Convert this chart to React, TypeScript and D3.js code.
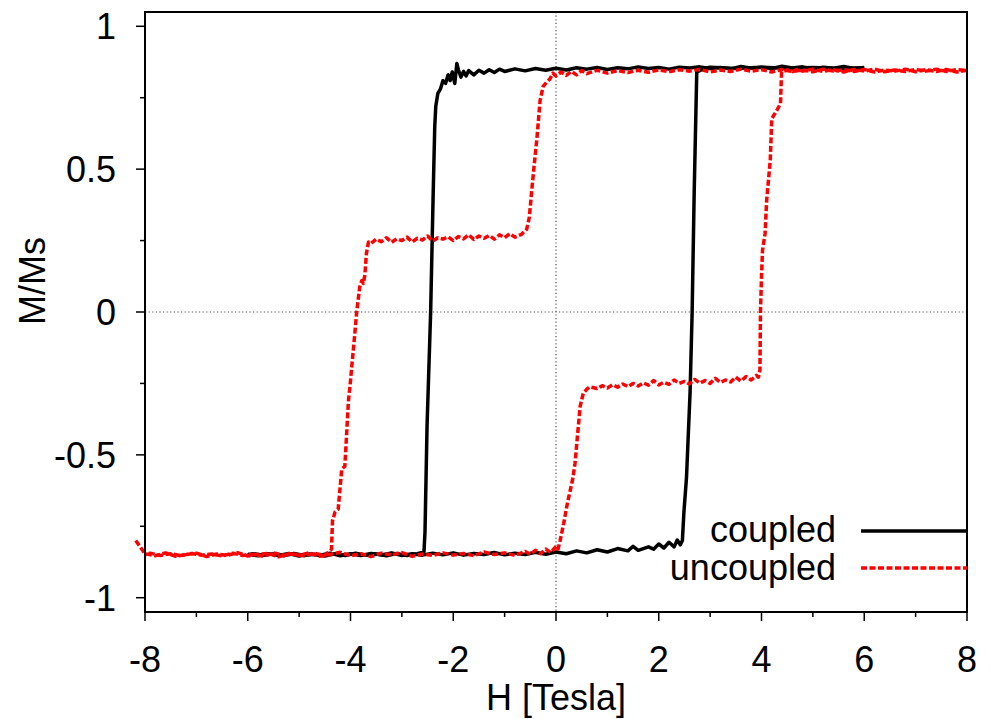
import React from 'react';
import * as d3 from 'd3';

const xTicks = [-8, -6, -4, -2, 0, 2, 4, 6, 8];
const xTickLabels = ['-8', '-6', '-4', '-2', '0', '2', '4', '6', '8'];
const xMinorTicks = [-7, -5, -3, -1, 1, 3, 5, 7];
const yTicks = [-1, -0.5, 0, 0.5, 1];
const yTickLabels = ['-1', '-0.5', '0', '0.5', '1'];
const yMinorTicks = [-0.75, -0.25, 0.25, 0.75];
const seriesNames = ['coupled', 'uncoupled'];
const xLabel = 'H [Tesla]';
const yLabel = 'M/Ms';

// coupled, field sweeping down (+6 -> -6)
const coupledDown: [number, number][] = [
  [6.0, 0.856], [5.8, 0.852], [5.6, 0.859], [5.4, 0.853], [5.2, 0.857], [5.0, 0.851], [4.8, 0.858], [4.6, 0.854],
  [4.4, 0.86], [4.2, 0.852], [4.0, 0.857], [3.8, 0.853], [3.6, 0.859], [3.4, 0.851], [3.2, 0.856], [3.0, 0.852],
  [2.8, 0.858], [2.6, 0.854], [2.4, 0.857], [2.2, 0.85], [2.0, 0.856], [1.8, 0.852], [1.6, 0.858], [1.4, 0.851],
  [1.2, 0.855], [1.0, 0.849], [0.8, 0.856], [0.6, 0.85], [0.4, 0.855], [0.2, 0.847], [0.0, 0.853], [-0.2, 0.846],
  [-0.4, 0.852], [-0.6, 0.844], [-0.8, 0.851], [-1.0, 0.842], [-1.1, 0.85], [-1.2, 0.838], [-1.3, 0.848], [-1.4, 0.836],
  [-1.5, 0.846], [-1.6, 0.83], [-1.7, 0.845], [-1.75, 0.826], [-1.8, 0.842], [-1.85, 0.822], [-1.9, 0.848], [-1.93, 0.87],
  [-1.97, 0.8], [-2.02, 0.84], [-2.06, 0.81], [-2.1, 0.83], [-2.15, 0.8], [-2.2, 0.81], [-2.25, 0.78], [-2.3, 0.765],
  [-2.34, 0.72], [-2.36, 0.65], [-2.39, 0.42], [-2.44, 0.0], [-2.51, -0.4], [-2.55, -0.77], [-2.57, -0.84], [-2.7, -0.846],
  [-2.9, -0.852], [-3.1, -0.845], [-3.3, -0.853], [-3.5, -0.847], [-3.7, -0.851], [-3.9, -0.844], [-4.1, -0.852],
  [-4.3, -0.846], [-4.5, -0.854], [-4.7, -0.848], [-4.9, -0.852], [-5.1, -0.845], [-5.3, -0.853], [-5.5, -0.847],
  [-5.7, -0.851], [-5.9, -0.846], [-6.0, -0.85],
];

// coupled, field sweeping up (-6 -> +6)
const coupledUp: [number, number][] = [
  [-6.0, -0.848], [-5.8, -0.853], [-5.6, -0.846], [-5.4, -0.852], [-5.2, -0.845], [-5.0, -0.854], [-4.8, -0.847],
  [-4.6, -0.851], [-4.4, -0.844], [-4.2, -0.853], [-4.0, -0.846], [-3.8, -0.852], [-3.6, -0.845], [-3.4, -0.85],
  [-3.2, -0.843], [-3.0, -0.852], [-2.8, -0.846], [-2.6, -0.851], [-2.4, -0.844], [-2.2, -0.85], [-2.0, -0.843],
  [-1.8, -0.851], [-1.6, -0.845], [-1.4, -0.849], [-1.2, -0.842], [-1.0, -0.85], [-0.8, -0.844], [-0.6, -0.849],
  [-0.4, -0.841], [-0.2, -0.848], [0.0, -0.84], [0.2, -0.846], [0.4, -0.836], [0.6, -0.843], [0.8, -0.832],
  [1.0, -0.84], [1.2, -0.828], [1.4, -0.836], [1.5, -0.82], [1.6, -0.834], [1.8, -0.822], [1.9, -0.83], [2.0, -0.812],
  [2.1, -0.826], [2.2, -0.806], [2.3, -0.822], [2.36, -0.798], [2.42, -0.815], [2.46, -0.8], [2.49, -0.7],
  [2.54, -0.58], [2.61, -0.28], [2.65, 0.0], [2.69, 0.42], [2.74, 0.84], [2.9, 0.853], [3.0, 0.857], [3.5, 0.852],
  [4.0, 0.857], [4.5, 0.853], [5.0, 0.856], [5.5, 0.852], [6.0, 0.855],
];

// uncoupled, field sweeping up (-8 -> +8)
const uncoupledUp: [number, number][] = [
  [-8.18, -0.8], [-8.0, -0.846], [-7.8, -0.853], [-7.6, -0.843], [-7.4, -0.855], [-7.2, -0.849], [-7.0, -0.844],
  [-6.8, -0.856], [-6.6, -0.847], [-6.4, -0.852], [-6.2, -0.842], [-6.0, -0.854], [-5.8, -0.848], [-5.6, -0.845],
  [-5.4, -0.857], [-5.2, -0.846], [-5.0, -0.851], [-4.8, -0.843], [-4.6, -0.855], [-4.4, -0.849], [-4.2, -0.841],
  [-4.0, -0.853], [-3.8, -0.846], [-3.6, -0.856], [-3.4, -0.844], [-3.2, -0.85], [-3.0, -0.842], [-2.8, -0.855],
  [-2.6, -0.847], [-2.4, -0.852], [-2.2, -0.843], [-2.0, -0.851], [-1.8, -0.845], [-1.6, -0.853], [-1.4, -0.84],
  [-1.2, -0.849], [-1.0, -0.843], [-0.8, -0.852], [-0.6, -0.838], [-0.5, -0.848], [-0.4, -0.834], [-0.3, -0.846],
  [-0.2, -0.83], [-0.1, -0.842], [0.0, -0.82], [0.04, -0.83], [0.08, -0.8], [0.15, -0.74], [0.21, -0.68],
  [0.27, -0.63], [0.33, -0.58], [0.37, -0.53], [0.41, -0.45], [0.44, -0.39], [0.47, -0.33], [0.53, -0.285],
  [0.6, -0.27], [0.66, -0.262], [0.8, -0.268], [0.9, -0.258], [1.0, -0.266], [1.1, -0.255], [1.2, -0.263],
  [1.3, -0.252], [1.4, -0.261], [1.5, -0.25], [1.6, -0.259], [1.7, -0.248], [1.8, -0.256], [1.9, -0.24],
  [2.0, -0.255], [2.1, -0.246], [2.2, -0.253], [2.3, -0.238], [2.4, -0.25], [2.5, -0.243], [2.6, -0.252],
  [2.7, -0.236], [2.8, -0.249], [2.9, -0.24], [3.0, -0.25], [3.1, -0.232], [3.2, -0.246], [3.3, -0.238],
  [3.4, -0.245], [3.5, -0.228], [3.6, -0.242], [3.7, -0.226], [3.8, -0.238], [3.9, -0.222], [3.94, -0.228],
  [3.97, -0.203], [3.98, 0.0], [4.0, 0.123], [4.02, 0.217], [4.07, 0.275], [4.1, 0.39], [4.17, 0.53],
  [4.2, 0.677], [4.3, 0.706], [4.37, 0.73], [4.39, 0.84], [4.5, 0.847], [4.6, 0.841], [4.7, 0.849], [4.8, 0.843],
  [5.0, 0.85], [5.2, 0.842], [5.4, 0.848], [5.6, 0.84], [5.8, 0.849], [6.0, 0.843], [6.2, 0.85], [6.4, 0.841],
  [6.6, 0.847], [6.8, 0.842], [7.0, 0.849], [7.2, 0.843], [7.4, 0.85], [7.6, 0.842], [7.8, 0.848], [8.0, 0.845],
];

// uncoupled, field sweeping down (+8 -> -8)
const uncoupledDown: [number, number][] = [
  [8.0, 0.846], [7.8, 0.84], [7.6, 0.849], [7.4, 0.842], [7.2, 0.848], [7.0, 0.841], [6.8, 0.85], [6.6, 0.843],
  [6.4, 0.847], [6.2, 0.84], [6.0, 0.849], [5.8, 0.842], [5.6, 0.848], [5.4, 0.843], [5.2, 0.85], [5.0, 0.841],
  [4.8, 0.847], [4.6, 0.842], [4.4, 0.849], [4.2, 0.84], [4.0, 0.848], [3.8, 0.843], [3.6, 0.85], [3.4, 0.842],
  [3.2, 0.847], [3.0, 0.84], [2.8, 0.849], [2.6, 0.843], [2.4, 0.848], [2.2, 0.841], [2.0, 0.847], [1.8, 0.839],
  [1.6, 0.846], [1.4, 0.838], [1.2, 0.845], [1.0, 0.836], [0.8, 0.846], [0.6, 0.834], [0.5, 0.845], [0.4, 0.83],
  [0.3, 0.842], [0.2, 0.828], [0.1, 0.84], [0.0, 0.826], [-0.06, 0.836], [-0.12, 0.815], [-0.18, 0.805],
  [-0.25, 0.79], [-0.31, 0.74], [-0.37, 0.61], [-0.41, 0.54], [-0.47, 0.43], [-0.52, 0.33], [-0.57, 0.29],
  [-0.67, 0.272], [-0.8, 0.262], [-0.9, 0.274], [-1.0, 0.26], [-1.1, 0.27], [-1.2, 0.255], [-1.3, 0.268],
  [-1.4, 0.258], [-1.5, 0.266], [-1.6, 0.254], [-1.7, 0.27], [-1.8, 0.256], [-1.9, 0.264], [-2.0, 0.25],
  [-2.1, 0.263], [-2.2, 0.255], [-2.3, 0.26], [-2.4, 0.248], [-2.5, 0.266], [-2.6, 0.252], [-2.7, 0.258],
  [-2.8, 0.245], [-2.9, 0.262], [-3.0, 0.25], [-3.1, 0.256], [-3.2, 0.244], [-3.3, 0.26], [-3.4, 0.246],
  [-3.5, 0.255], [-3.6, 0.24], [-3.65, 0.245], [-3.69, 0.205], [-3.72, 0.13], [-3.75, 0.1], [-3.78, 0.11],
  [-3.82, 0.088], [-3.88, 0.0], [-3.91, -0.063], [-4.01, -0.26], [-4.04, -0.31], [-4.11, -0.54], [-4.17, -0.55],
  [-4.24, -0.69], [-4.3, -0.7], [-4.35, -0.73], [-4.37, -0.83], [-4.5, -0.852], [-4.7, -0.845], [-4.9, -0.853],
  [-5.1, -0.847], [-5.3, -0.851], [-5.5, -0.843], [-5.7, -0.855], [-5.9, -0.848], [-6.1, -0.852], [-6.3, -0.844],
  [-6.5, -0.854], [-6.7, -0.847], [-6.9, -0.851], [-7.1, -0.845], [-7.3, -0.853], [-7.5, -0.846], [-7.7, -0.852],
  [-7.9, -0.844], [-8.0, -0.85],
];

const W = 991;
const H = 719;
const left = 145;
const right = 967;
const top = 12;
const bottom = 612;
const font = '"Liberation Sans", Arial, Helvetica, sans-serif';

export default function App() {
  const x = d3.scaleLinear().domain([-8, 8]).range([left, right]);
  const y = d3.scaleLinear().domain([-1.05, 1.05]).range([bottom, top]);
  const line = d3
    .line<[number, number]>()
    .x((d) => x(d[0]))
    .y((d) => y(d[1]));

  return (
    <svg
      width={W}
      height={H}
      style={{ position: 'absolute', left: 0, top: 0, background: '#fff' }}
      fontFamily={font}
    >
      <rect x={0} y={0} width={W} height={H} fill="#fff" />
      {/* zero lines */}
      <line x1={x(0)} x2={x(0)} y1={top} y2={bottom} stroke="#555" strokeWidth={1.2} strokeDasharray="1.2,2.4" />
      <line x1={left} x2={right} y1={y(0)} y2={y(0)} stroke="#555" strokeWidth={1.2} strokeDasharray="1.2,2.4" />

      {/* data */}
      <g fill="none" strokeLinejoin="round">
        <path d={line(coupledDown) || ''} stroke="#000" strokeWidth={3.5} />
        <path d={line(coupledUp) || ''} stroke="#000" strokeWidth={3.5} />
        <path d={line(uncoupledUp) || ''} stroke="#ff0000" strokeWidth={3.5} strokeDasharray="6,2.5" />
        <path d={line(uncoupledDown) || ''} stroke="#ff0000" strokeWidth={3.5} strokeDasharray="6,2.5" />
      </g>

      {/* frame */}
      <rect x={left} y={top} width={right - left} height={bottom - top} fill="none" stroke="#000" strokeWidth={2} />

      {/* x ticks */}
      {xTicks.map((t, i) => (
        <g key={'xt' + t}>
          <line x1={x(t)} x2={x(t)} y1={bottom} y2={bottom + 9} stroke="#000" strokeWidth={1.5} />
          <text x={x(t)} y={672} textAnchor="middle" fontSize={36} fill="#000">
            {xTickLabels[i]}
          </text>
        </g>
      ))}
      {xMinorTicks.map((t) => (
        <line key={'xm' + t} x1={x(t)} x2={x(t)} y1={bottom} y2={bottom + 5} stroke="#000" strokeWidth={1.5} />
      ))}

      {/* y ticks */}
      {yTicks.map((t, i) => (
        <g key={'yt' + t}>
          <line x1={left - 9} x2={left} y1={y(t)} y2={y(t)} stroke="#000" strokeWidth={1.5} />
          <text x={116} y={y(t)} dy="0.36em" textAnchor="end" fontSize={36} fill="#000">
            {yTickLabels[i]}
          </text>
        </g>
      ))}
      {yMinorTicks.map((t) => (
        <line key={'ym' + t} x1={left - 5} x2={left} y1={y(t)} y2={y(t)} stroke="#000" strokeWidth={1.5} />
      ))}

      {/* axis labels */}
      <text x={556} y={710} textAnchor="middle" fontSize={36} fill="#000">
        {xLabel}
      </text>
      <text transform={`translate(45,281) rotate(-90)`} textAnchor="middle" fontSize={36} fill="#000">
        {yLabel}
      </text>

      {/* legend */}
      <text x={836} y={542} textAnchor="end" fontSize={36} fill="#000">
        {seriesNames[0]}
      </text>
      <line x1={861} x2={967} y1={531} y2={531} stroke="#000" strokeWidth={3.5} />
      <text x={836} y={580} textAnchor="end" fontSize={36} fill="#000">
        {seriesNames[1]}
      </text>
      <line x1={861} x2={967} y1={568} y2={568} stroke="#ff0000" strokeWidth={3.5} strokeDasharray="6,2.5" />
    </svg>
  );
}
